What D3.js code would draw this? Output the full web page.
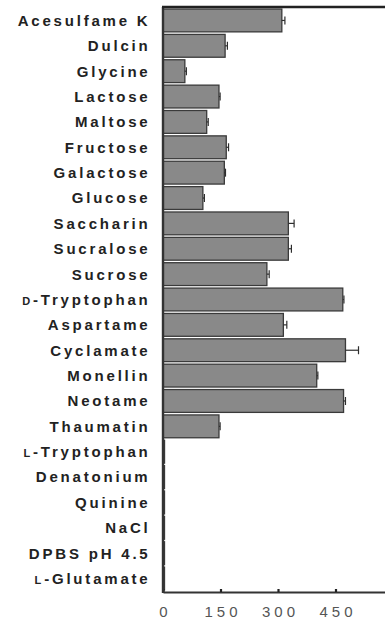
<!DOCTYPE html>
<html>
<head>
<meta charset="utf-8">
<script src="https://cdn.jsdelivr.net/npm/d3@7"></script>
<style>
  html, body { margin: 0; padding: 0; background: #fff; overflow: hidden; }
  svg { display: block; }
</style>
</head>
<body>
<svg id="chart" width="385" height="623"></svg>
<script>
// Compounds tested, top to bottom; a leading "D-" / "L-" is drawn as a small-cap prefix
const compounds = [
  "Acesulfame K", "Dulcin", "Glycine", "Lactose", "Maltose", "Fructose",
  "Galactose", "Glucose", "Saccharin", "Sucralose", "Sucrose", "D-Tryptophan",
  "Aspartame", "Cyclamate", "Monellin", "Neotame", "Thaumatin", "L-Tryptophan",
  "Denatonium", "Quinine", "NaCl", "DPBS pH 4.5", "L-Glutamate"
];
// Mean response per compound
const responses = [
  310, 162, 57, 146, 114, 165,
  160, 104, 327, 327, 271, 469,
  314, 476, 401, 471, 146, 4,
  2, 3, 2, 2, 2
];
// Standard error per compound
const errors = [
  8, 6, 4, 3, 4, 6,
  3, 4, 15, 8, 6, 3,
  9, 34, 3, 5, 3, 2,
  1, 1, 1, 1, 1
];
const xTicks = [0, 150, 300, 450];

const data = compounds.map((c, i) => ({ name: c, value: responses[i], err: errors[i] }));

const svg = d3.select("#chart");
const margin = { top: 7, left: 163, bottom: 592 };

const x = d3.scaleLinear().domain([0, 600]).range([margin.left, margin.left + 230]);
const y = d3.scaleBand()
  .domain(compounds)
  .range([margin.top, margin.bottom])
  .paddingInner(0.1)
  .paddingOuter(0.08);

// Bars
svg.append("g").selectAll("rect")
  .data(data)
  .join("rect")
  .attr("x", x(0))
  .attr("y", d => y(d.name))
  .attr("width", d => Math.max(1.5, x(d.value) - x(0)))
  .attr("height", y.bandwidth())
  .attr("fill", "#898989")
  .attr("stroke", "#3a3a3a")
  .attr("stroke-width", 1.3);

// Error bars (upper half, with caps)
const eb = svg.append("g").attr("stroke", "#2e2e2e").attr("stroke-width", 1.2);
data.filter(d => d.value > 20).forEach(d => {
  const cy = y(d.name) + y.bandwidth() / 2;
  const x1 = x(d.value), x2 = x(d.value + d.err);
  eb.append("line").attr("x1", x1).attr("x2", x2).attr("y1", cy).attr("y2", cy);
  eb.append("line").attr("x1", x2).attr("x2", x2).attr("y1", cy - 4).attr("y2", cy + 4);
});

// Category labels
const labels = svg.append("g")
  .attr("font-family", "Liberation Sans, Arial, sans-serif")
  .attr("font-weight", "bold")
  .attr("font-size", 15)
  .attr("fill", "#222")
  .attr("letter-spacing", 2.8)
  .attr("text-anchor", "end");

data.forEach(d => {
  const t = labels.append("text")
    .attr("x", 150.5)
    .attr("y", y(d.name) + y.bandwidth() / 2)
    .attr("dy", "0.36em");
  const m = d.name.match(/^([DL])-(.*)$/);
  if (m) {
    t.append("tspan").attr("font-size", 11).text(m[1]);
    t.append("tspan").text("-" + m[2]);
  } else {
    t.text(d.name);
  }
});

// Axes frame: left, bottom and top rules
const axisG = svg.append("g");
const xAxis = d3.axisBottom(x).tickValues(xTicks).tickSize(-3).tickSizeOuter(0).tickPadding(14);
axisG.append("g")
  .attr("transform", `translate(0,${margin.bottom})`)
  .call(xAxis)
  .call(g => g.select(".domain").attr("stroke", "#333").attr("stroke-width", 2.2))
  .call(g => g.selectAll(".tick line").attr("stroke", "#222").attr("stroke-width", 2.2))
  .call(g => g.selectAll(".tick text")
    .attr("font-family", "Liberation Sans, Arial, sans-serif")
    .attr("font-size", 15)
    .attr("letter-spacing", 4)
    .attr("dx", 2)
    .attr("fill", "#555"));

axisG.append("line")
  .attr("x1", x(0)).attr("x2", x(0))
  .attr("y1", margin.top).attr("y2", margin.bottom + 1)
  .attr("stroke", "#333").attr("stroke-width", 2.4);

axisG.append("line")
  .attr("x1", x(0) - 1).attr("x2", x(600))
  .attr("y1", margin.top).attr("y2", margin.top)
  .attr("stroke", "#222").attr("stroke-width", 2.4);
</script>
</body>
</html>
